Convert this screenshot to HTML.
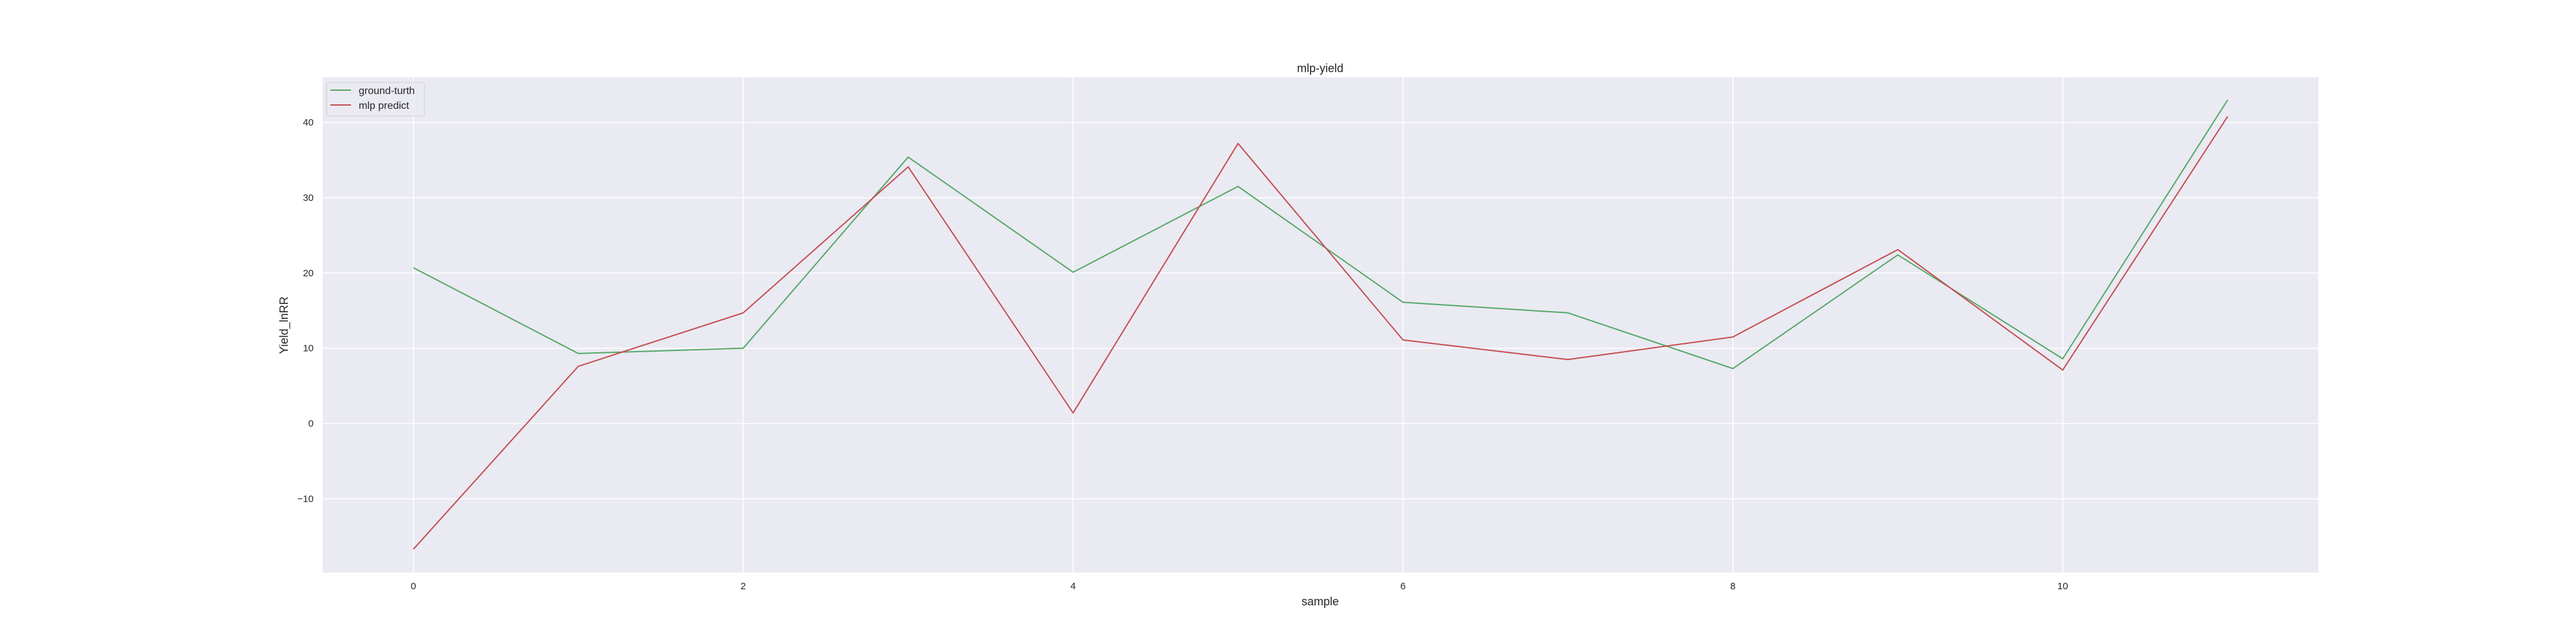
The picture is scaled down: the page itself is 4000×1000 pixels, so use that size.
<!DOCTYPE html>
<html><head><meta charset="utf-8"><style>
html,body{margin:0;padding:0;background:#fff;}
svg{display:block;font-family:"Liberation Sans","Noto Sans CJK SC",sans-serif;}
</style></head><body>
<svg id="chart" width="4000" height="1000" viewBox="0 0 4000 1000" xmlns="http://www.w3.org/2000/svg">
<rect x="0" y="0" width="4000" height="1000" fill="#fff"/>
<rect x="501" y="120" width="3099" height="769" fill="#eaeaf2"/>
<g id="grid"></g>
<g id="ticks"></g>
<g id="series"></g>
<text x="2050" y="112" font-size="18" fill="#262626" text-anchor="middle">mlp-yield</text>
<text x="2050" y="940" font-size="18" fill="#262626" text-anchor="middle">sample</text>
<text x="447" y="505" font-size="18" fill="#262626" text-anchor="middle" transform="rotate(-90 447 505)">Yield_lnRR</text>
<g>
<rect x="507" y="128" width="152" height="52" rx="3" fill="#eaeaf2" fill-opacity="0.8" stroke="#cccccc" stroke-width="1"/>
<line x1="513" y1="140" x2="545" y2="140" stroke="#55a868" stroke-width="2"/>
<text x="557" y="146" font-size="16" fill="#262626">ground-turth</text>
<line x1="513" y1="163" x2="545" y2="163" stroke="#c44e52" stroke-width="2"/>
<text x="557" y="169" font-size="16" fill="#262626">mlp predict</text>
</g>
</svg>
<script>
const samples = [0,1,2,3,4,5,6,7,8,9,10,11];
const groundTruth = [20.7,9.3,10.0,35.4,20.1,31.5,16.1,14.7,7.3,22.4,8.6,43.0];
const mlpPredict = [-16.7,7.6,14.7,34.1,1.4,37.2,11.1,8.5,11.5,23.1,7.1,40.8];
const xTicks = [0,2,4,6,8,10];
const yTicks = [-10,0,10,20,30,40];

const L=501,R=3600,T=120,B=889;
const xMin=-0.55,xMax=11.55,yMin=-19.8,yMax=46.0;
function xs(v){return L+(v-xMin)/(xMax-xMin)*(R-L);}
function ys(v){return B-(v-yMin)/(yMax-yMin)*(B-T);}
const NS="http://www.w3.org/2000/svg";
function mk(tag,attrs,parent){const e=document.createElementNS(NS,tag);for(const k in attrs)e.setAttribute(k,attrs[k]);parent.appendChild(e);return e;}
const grid=document.getElementById('grid'),ticks=document.getElementById('ticks'),series=document.getElementById('series');
xTicks.forEach(t=>{
  const g=mk('line',{x1:xs(t),x2:xs(t),y1:T,y2:B,stroke:'#fff','stroke-width':1.5},grid);
  
  
  const l=mk('text',{x:xs(t),y:915,'font-size':15,fill:'#262626','text-anchor':'middle'},ticks);
  l.textContent=String(t);
  
  
});
yTicks.forEach(t=>{
  const g=mk('line',{x1:L,x2:R,y1:ys(t),y2:ys(t),stroke:'#fff','stroke-width':1.5},grid);
  
  
  const l=mk('text',{x:487,y:ys(t)+5,'font-size':15,fill:'#262626','text-anchor':'end'},ticks);
  l.textContent=(t<0?'\u2212'+Math.abs(t):String(t));
  
  
});
function drawLine(vals,color,name){
  const pts=samples.map((s,i)=>xs(s).toFixed(1)+','+ys(vals[i]).toFixed(1)).join(' ');
  const p=mk('polyline',{points:pts,fill:'none',stroke:color,'stroke-width':2,'stroke-linejoin':'round'},series);
  
  
}
drawLine(groundTruth,'#55a868','line-ground-turth');
drawLine(mlpPredict,'#c44e52','line-mlp-predict');
</script>
</body></html>
